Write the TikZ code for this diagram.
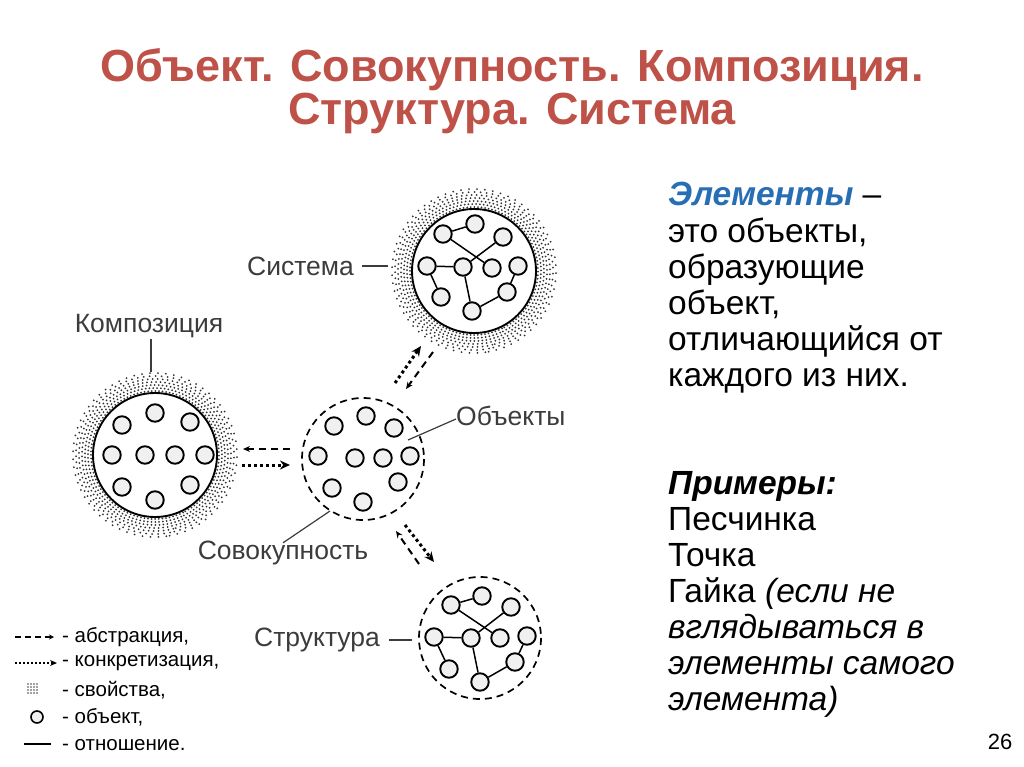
\documentclass[tikz,border=0pt]{standalone}
\usepackage{fontspec}
\setmainfont{Liberation Sans}
\usetikzlibrary{arrows.meta,calc}
\definecolor{titlec}{RGB}{190,82,72}
\definecolor{bluec}{RGB}{40,110,180}
\definecolor{lab}{RGB}{60,60,60}
\tikzset{
 obj/.style={circle,draw=black,line width=1.9pt,fill=gray!12,minimum size=17.5pt,inner sep=0pt},
 rel/.style={line width=1.5pt},
 lbl/.style={font=\fontsize{26.5}{28}\selectfont,text=lab,inner sep=1pt},
 rt/.style={anchor=base west,font=\fontsize{33.5}{36}\selectfont,inner sep=0pt},
 abstr/.style={line width=2pt,dash pattern=on 7pt off 5pt,-{Stealth[length=7pt,width=6pt]}},
 concr/.style={line width=3pt,dash pattern=on 3pt off 3pt,-{Stealth[length=10pt,width=9pt]}},
 ptr/.style={line width=1.2pt,lab}
}
\newcommand{\stipple}[1]{%
 \foreach \r/\st in {64/3.6,67/3.8,70/4,73/4.5,76/5,79/6,82/8}{%
   \pgfmathsetmacro{\da}{\st*57.3/\r}
   \foreach \a in {0,\da,...,359}{\fill[black!80] ($(#1)+(\a+\r:\r)$) circle (1);}}}
\begin{document}
\begin{tikzpicture}[x=1pt,y=-1pt]
\useasboundingbox (0,0) rectangle (1024,767);
% title
\node[font=\fontsize{45}{50}\selectfont\bfseries,text=titlec] (t1) at (512,70) {Объект. Совокупность. Композиция.};
\node[font=\fontsize{45}{50}\selectfont\bfseries,text=titlec] (t2) at (512,113) {Структура. Система};
% composition
\coordinate (C) at (155,455);
\stipple{C}
\draw[line width=1.9pt] (C) circle (62);
\foreach \p [count=\i] in {(122,425),(155,413),(190,422),(112,455),(145,455),(175,455),(205,455),(122,487),(155,500),(190,485)}
 \node[obj] (c\i) at \p {};
% set
\coordinate (S) at (363,459);
\draw[line width=1.7pt,dash pattern=on 7pt off 5pt] (S) circle (61);
\foreach \p [count=\i] in {(334,426),(366,416),(394,428),(318,456),(355,458),(383,458),(410,456),(332,488),(398,482),(363,502)}
 \node[obj] (s\i) at \p {};
% system
\coordinate (Y) at (474,271);
\stipple{Y}
\draw[line width=1.9pt] (Y) circle (62);
\foreach \n/\x/\y in {a/443/234,b/475/224,c/503/237,d/427/266,e/463/267,f/492/268,g/518/266,h/441/297,i/507/292,j/472/311}
 \node[obj] (y\n) at (\x,\y) {};
\foreach \u/\v in {a/b,a/f,c/e,d/e,d/h,e/j,j/i,i/g} \draw[rel] (y\u) -- (y\v);
% structure
\coordinate (T) at (480,638);
\draw[line width=1.7pt,dash pattern=on 7pt off 5pt] (T) circle (61);
\foreach \n/\x/\y in {a/451/605,b/482/596,c/511/607,d/434/637,e/471/638,f/500/638,g/527/636,h/449/669,i/515/662,j/480/682}
 \node[obj] (u\n) at (\x,\y) {};
\foreach \u/\v in {a/b,a/f,c/e,d/e,d/h,e/j,j/i,i/g} \draw[rel] (u\u) -- (u\v);
% arrows
\coordinate (a1s) at (290,449); \coordinate (a1e) at (243,449);
\draw[abstr] (a1s) -- (a1e);
\coordinate (b1s) at (242,465); \coordinate (b1e) at (290,465);
\draw[concr] (b1s) -- (b1e);
\coordinate (a2s) at (433,352); \coordinate (a2e) at (406,389);
\draw[abstr] (a2s) -- (a2e);
\coordinate (b2s) at (395,383); \coordinate (b2e) at (421,346);
\draw[concr] (b2s) -- (b2e);
\coordinate (a3s) at (419,564); \coordinate (a3e) at (396,531);
\draw[abstr] (a3s) -- (a3e);
\coordinate (b3s) at (405,525); \coordinate (b3e) at (434,562);
\draw[concr] (b3s) -- (b3e);
% labels
\node[lbl,anchor=west] (lsys) at (246,266) {Система};
\coordinate (psys) at (388,266);
\draw[ptr] ($(lsys.east)+(7,0)$) -- (psys);
\node[lbl] (lcomp) at (149,326) {Композиция};
\coordinate (pcomp) at (151,372);
\draw[ptr] ($(lcomp.south)+(2,0)$) -- (pcomp);
\node[lbl,anchor=west] (lobj) at (455,416) {Объекты};
\coordinate (pobj) at (408,440);
\draw[ptr] ($(lobj.west)+(1,3)$) -- (pobj);
\node[lbl] (lset) at (283,553) {Совокупность};
\coordinate (pset) at (330,511);
\draw[ptr] ($(lset.north)+(0,3)$) -- (pset);
\node[lbl,anchor=west] (lstr) at (253,640) {Структура};
\coordinate (pstr) at (412,640);
\draw[ptr] ($(lstr.east)+(8,0)$) -- (pstr);
% legend
\tikzset{lg/.style={anchor=west,font=\fontsize{20.5}{22}\selectfont,inner sep=0pt}}
\coordinate (l1a) at (15,637); \coordinate (l1b) at (54,637);
\draw[line width=1.8pt,dash pattern=on 6pt off 4pt,-{Stealth[length=5pt,width=5pt]}] (l1a) -- (l1b);
\node[lg] (g1) at (62,637) {- абстракция,};
\coordinate (l2a) at (15,663); \coordinate (l2b) at (57,663);
\draw[line width=2.2pt,dash pattern=on 2pt off 2pt,-{Stealth[length=7pt,width=6pt]}] (l2a) -- (l2b);
\node[lg] (g2) at (62,663) {- конкретизация,};
\foreach \i in {0,...,3} \foreach \j in {0,...,3} \fill[black!75] (28+3*\i,684+3*\j) circle (0.8);
\node[lg] (g3) at (62,690) {- свойства,};
\node[obj,minimum size=12pt,line width=1.6pt] (g4o) at (37,717) {};
\node[lg] (g4) at (62,717) {- объект,};
\coordinate (l5a) at (24,744); \coordinate (l5b) at (51,744);
\draw[line width=1.4pt] (l5a) -- (l5b);
\node[lg] (g5) at (62,745) {- отношение.};
% right text
\node[rt] (r1) at (668,206) {\textcolor{bluec}{\bfseries\itshape Элементы}~–};
\node[rt] (r2) at (668,242) {это объекты,};
\node[rt] (r3) at (668,278) {образующие};
\node[rt] (r4) at (668,314) {объект,};
\node[rt] (r5) at (668,350) {отличающийся от};
\node[rt] (r6) at (668,386) {каждого из них.};
\node[rt,font=\fontsize{33.5}{36}\selectfont\bfseries\itshape] (r7) at (668,494) {Примеры:};
\node[rt] (r8) at (668,530) {Песчинка};
\node[rt] (r9) at (668,566) {Точка};
\node[rt] (r10) at (668,602) {Гайка \textit{(если не}};
\node[rt,font=\fontsize{33.5}{36}\selectfont\itshape] (r11) at (668,638) {вглядываться в};
\node[rt,font=\fontsize{33.5}{36}\selectfont\itshape] (r12) at (668,674) {элементы самого};
\node[rt,font=\fontsize{33.5}{36}\selectfont\itshape] (r13) at (668,710) {элемента)};
\node[font=\fontsize{22}{24}\selectfont] (num) at (1000,742) {26};
\end{tikzpicture}
\end{document}
